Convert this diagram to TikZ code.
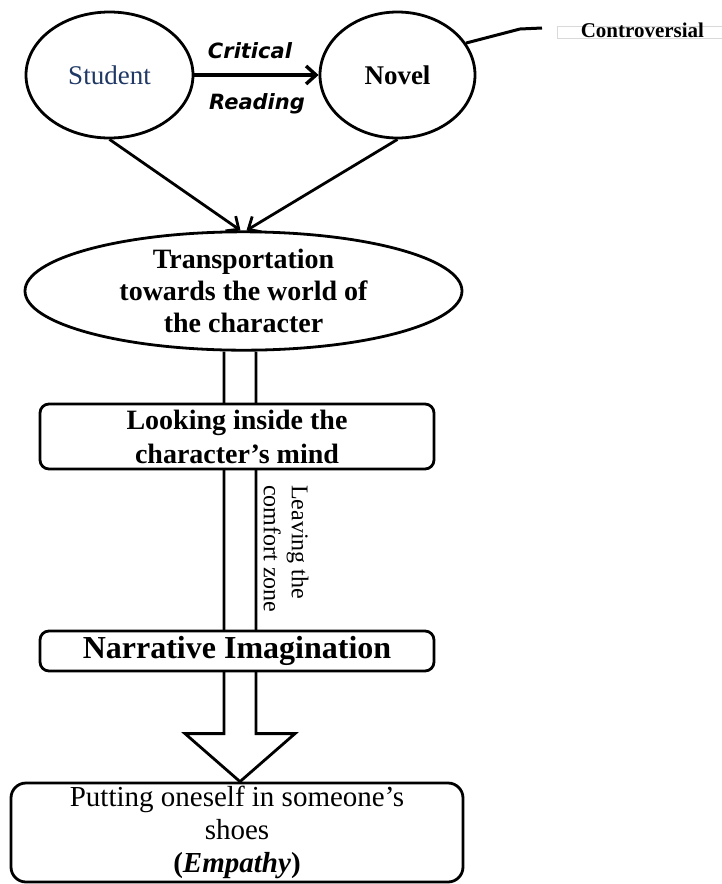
\documentclass[tikz,border=0pt]{standalone}
\usepackage{fontspec}
\setmainfont{Liberation Serif}
\newfontfamily\readfont{DejaVu Sans}
\usepackage{xcolor}
\usetikzlibrary{arrows.meta, shapes.geometric, backgrounds}
\definecolor{studentblue}{HTML}{1F3864}

\begin{document}
\begin{tikzpicture}[x=1pt, y=-1pt,
  bubble/.style={draw, ellipse, line width=2.8pt, fill=white, inner sep=0pt, align=center},
  panel/.style={draw, rounded corners=9pt, line width=2.8pt, fill=white, inner sep=0pt, align=center},
  link/.style={line width=2.8pt, -{Straight Barb[length=10pt, width=18pt]}},
  readlbl/.style={inner sep=0pt, font=\readfont\bfseries\itshape\fontsize{21}{24}\selectfont},
  hollow/.style={line width=2.8pt, fill=white, line join=miter}]
  \useasboundingbox (0,0) rectangle (721,884);

  % Student and Novel
  \node[bubble, minimum width=167pt, minimum height=126pt, text=studentblue,
        font=\fontsize{27}{30}\selectfont] (student) at (109.5,75) {Student};
  \node[bubble, minimum width=155pt, minimum height=126pt,
        font=\bfseries\fontsize{27}{30}\selectfont] (novel) at (397.5,75) {Novel};

  % Critical Reading
  \draw[link, line width=3.4pt] (student) -- (novel);
  \node[readlbl] (critical) at (250,51) {Critical};
  \node[readlbl] (reading) at (257,104) {Reading};

  % Controversial side note
  \node[draw=black!15, line width=0.8pt, anchor=west, minimum width=170pt, inner sep=0pt,
        text height=11pt, text depth=1pt,
        font=\bfseries\fontsize{21}{21}\selectfont] (contro) at (557,32) {Controversial};
  \coordinate (kink) at (520,29);
  \coordinate (tail) at (542,28);
  \draw[line width=3pt] (novel.25) -- (kink) -- (tail);

  % Transportation
  \node[bubble, minimum width=437pt, minimum height=102pt,
        font=\bfseries\fontsize{28}{32}\selectfont] (trans) at (243.5,291)
        {Transportation\\towards the world of\\the character};
  \draw[link] (student.south) -- ([xshift=-3pt]trans.north);
  \draw[link] (novel.south) -- ([xshift=3pt]trans.north);

  % Boxes down the middle
  \node[panel, minimum width=394pt, minimum height=65pt,
        font=\bfseries\fontsize{28}{34}\selectfont] (inside) at (237,436.5)
        {Looking inside the\\character’s mind};
  \node[panel, minimum width=394pt, minimum height=40pt,
        font=\bfseries\fontsize{32}{34}\selectfont] (narrative) at (237,651)
        {Narrative Imagination};
  \node[panel, rounded corners=15pt, minimum width=452pt, minimum height=99pt,
        font=\fontsize{29}{33}\selectfont] (empathy) at (237,832.5)
        {Putting oneself in someone’s\\shoes\\\textbf{(\textit{Empathy})}};

  % Leaving the comfort zone
  \node[rotate=-90, anchor=west, align=left, inner sep=0pt,
        font=\fontsize{24}{28}\selectfont] (comfort) at (286,485)
        {Leaving the\\comfort zone};

  % Big hollow arrow behind the boxes
  \begin{pgfonlayer}{background}
    \draw[hollow] ([xshift=-13pt]trans.south -| empathy.north)
      -- ([xshift=-13pt, yshift=48pt]empathy.north)
      -- ([xshift=-52pt, yshift=48pt]empathy.north)
      -- ([xshift=3pt]empathy.north)
      -- ([xshift=58pt, yshift=48pt]empathy.north)
      -- ([xshift=19pt, yshift=48pt]empathy.north)
      -- ([xshift=19pt]trans.south -| empathy.north);
  \end{pgfonlayer}
\end{tikzpicture}
\end{document}
